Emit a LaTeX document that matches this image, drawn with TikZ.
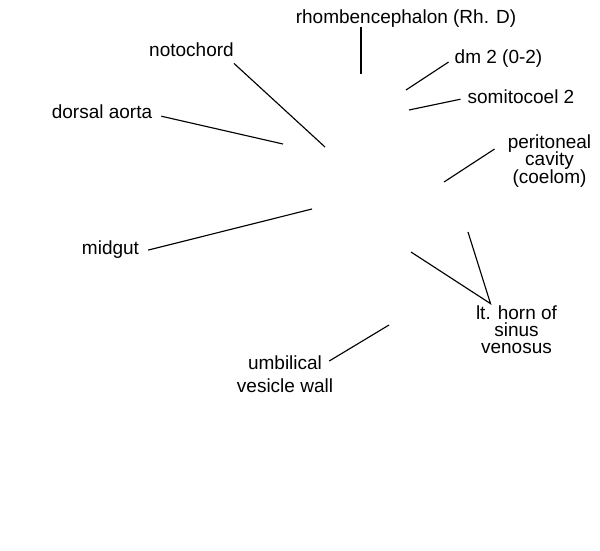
\documentclass[tikz,border=0pt]{standalone}
\usepackage{fontspec}
\usepackage{tikz}
\usetikzlibrary{calc}
\newfontfamily\lblfamily{Liberation Sans}
\tikzset{
	lbl/.style={font={\lblfamily\fontsize{19}{17.2}\selectfont\lineskiplimit=-20pt}, inner sep=0pt, align=center},
	lead/.style={line width=0.4mm, color=black}
}

\begin{document}
\begin{tikzpicture}[x=1pt, y=-1pt]
			%%%%% START %%%%%
			
			\useasboundingbox (0, 0) rectangle (600, 550);
			
			\node[lbl, anchor=base] (rhomb) at (406, 23) {rhombencephalon (Rh. D)};
			\node[lbl, anchor=base] (noto) at (191.5, 56) {notochord};
			\node[lbl, anchor=base] (dm) at (498.5, 63) {dm 2 (0-2)};
			\node[lbl, anchor=base] (somi) at (521, 103) {somitocoel 2};
			\node[lbl, anchor=base] (dao) at (102, 118) {dorsal aorta};
			\node[lbl, anchor=north] (peri) at (549.5, 134.7) {peritoneal\\cavity\\(coelom)};
			\node[lbl, anchor=base] (midgut) at (110.5, 254) {midgut};
			\node[lbl, anchor=north] (horn) at (516.5, 305.6) {lt. horn of\\sinus\\venosus};
			\node[lbl, anchor=north] (umb) at (285, 355.4) {umbilical\\[5.5pt]vesicle wall};
			
			\coordinate (rhtip) at (361, 74);
			\coordinate (nttip) at (325, 147);
			\coordinate (dmtip) at (406, 90);
			\coordinate (sotip) at (409, 110);
			\coordinate (datip) at (283, 144);
			\coordinate (petip) at (444, 182);
			\coordinate (mgtip) at (312, 209);
			\coordinate (hotipa) at (468, 232);
			\coordinate (hotipb) at (411, 252);
			\coordinate (umtip) at (389, 325);
			
			\draw[lead] (rhomb.south -| rhtip) -- (rhtip);
			\draw[lead] ([shift={(0, 7)}]noto.south east) -- (nttip);
			\draw[lead] ([shift={(-6, 4)}]dm.west) -- (dmtip);
			\draw[lead] ([shift={(-7, 3)}]somi.west) -- (sotip);
			\draw[lead] ([shift={(9, 5)}]dao.east) -- (datip);
			\draw[lead] ([shift={(-13, 14.3)}]peri.north west) -- (petip);
			\draw[lead] ([shift={(9, 1)}]midgut.east) -- (mgtip);
			\draw[lead] (hotipa) -- ([shift={(-26, -2)}]horn.north) -- (hotipb);
			\draw[lead] ([shift={(-4, 5.6)}]umb.north east) -- (umtip);
			
			%%%%% END %%%%%
		\end{tikzpicture}
\end{document}
